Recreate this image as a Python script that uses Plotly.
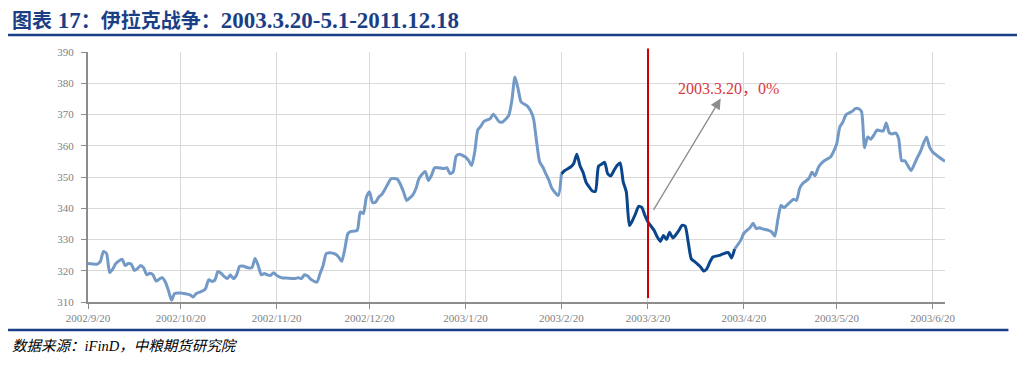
import plotly.graph_objects as go

# ---- data ----
dates = [
    "2002-09-20", "2002-09-23", "2002-09-24", "2002-09-25", "2002-09-26", "2002-09-27", "2002-09-28", "2002-09-29",
    "2002-10-01", "2002-10-02", "2002-10-03", "2002-10-04", "2002-10-05", "2002-10-06", "2002-10-07", "2002-10-08",
    "2002-10-09", "2002-10-10", "2002-10-11", "2002-10-12", "2002-10-13", "2002-10-14", "2002-10-15", "2002-10-16",
    "2002-10-17", "2002-10-18", "2002-10-20", "2002-10-21", "2002-10-23", "2002-10-24", "2002-10-25", "2002-10-27",
    "2002-10-28", "2002-10-29", "2002-10-30", "2002-10-31",
    "2002-11-01", "2002-11-02", "2002-11-03", "2002-11-04", "2002-11-05", "2002-11-06", "2002-11-07", "2002-11-08",
    "2002-11-09", "2002-11-11", "2002-11-12", "2002-11-13", "2002-11-14", "2002-11-15", "2002-11-16", "2002-11-17",
    "2002-11-18", "2002-11-19", "2002-11-20", "2002-11-22", "2002-11-23", "2002-11-25", "2002-11-26", "2002-11-27",
    "2002-11-28", "2002-11-29", "2002-11-30",
    "2002-12-01", "2002-12-03", "2002-12-04", "2002-12-05", "2002-12-06", "2002-12-07", "2002-12-09", "2002-12-10",
    "2002-12-11", "2002-12-12", "2002-12-13", "2002-12-14", "2002-12-16", "2002-12-17", "2002-12-18", "2002-12-19",
    "2002-12-20", "2002-12-21", "2002-12-22", "2002-12-23", "2002-12-24", "2002-12-25", "2002-12-26", "2002-12-27",
    "2002-12-29", "2002-12-30", "2002-12-31",
    "2003-01-01", "2003-01-02", "2003-01-03", "2003-01-04", "2003-01-05", "2003-01-07", "2003-01-08", "2003-01-09",
    "2003-01-10", "2003-01-11", "2003-01-13", "2003-01-14", "2003-01-15", "2003-01-16", "2003-01-17", "2003-01-18",
    "2003-01-20", "2003-01-21", "2003-01-22", "2003-01-23", "2003-01-24", "2003-01-25", "2003-01-26", "2003-01-28",
    "2003-01-29", "2003-01-31",
    "2003-02-01", "2003-02-02", "2003-02-03", "2003-02-04", "2003-02-05", "2003-02-06", "2003-02-07", "2003-02-09",
    "2003-02-10", "2003-02-11", "2003-02-12", "2003-02-13", "2003-02-14", "2003-02-15", "2003-02-16", "2003-02-17",
    "2003-02-19", "2003-02-20", "2003-02-21", "2003-02-23", "2003-02-24", "2003-02-25", "2003-02-26", "2003-02-27",
    "2003-02-28",
    "2003-03-01", "2003-03-02", "2003-03-03", "2003-03-04", "2003-03-05", "2003-03-06", "2003-03-07", "2003-03-08",
    "2003-03-09", "2003-03-10", "2003-03-11", "2003-03-12", "2003-03-13", "2003-03-14", "2003-03-15", "2003-03-16",
    "2003-03-17", "2003-03-18", "2003-03-19", "2003-03-20", "2003-03-22", "2003-03-23", "2003-03-24", "2003-03-25",
    "2003-03-26", "2003-03-27", "2003-03-28", "2003-03-29", "2003-03-30", "2003-03-31",
    "2003-04-01", "2003-04-02", "2003-04-03", "2003-04-04", "2003-04-06", "2003-04-07", "2003-04-08", "2003-04-09",
    "2003-04-10", "2003-04-12", "2003-04-13", "2003-04-15", "2003-04-16", "2003-04-17", "2003-04-19", "2003-04-20",
    "2003-04-22", "2003-04-23", "2003-04-24", "2003-04-25", "2003-04-26", "2003-04-28", "2003-04-29", "2003-04-30",
    "2003-05-01", "2003-05-02", "2003-05-03", "2003-05-04", "2003-05-05", "2003-05-06", "2003-05-07", "2003-05-08",
    "2003-05-09", "2003-05-11", "2003-05-12", "2003-05-13", "2003-05-14", "2003-05-15", "2003-05-16", "2003-05-18",
    "2003-05-19", "2003-05-20", "2003-05-21", "2003-05-22", "2003-05-23", "2003-05-24", "2003-05-25", "2003-05-26",
    "2003-05-27", "2003-05-28", "2003-05-29", "2003-05-30", "2003-05-31",
    "2003-06-01", "2003-06-02", "2003-06-04", "2003-06-05", "2003-06-06", "2003-06-07", "2003-06-08", "2003-06-09",
    "2003-06-10", "2003-06-11", "2003-06-13", "2003-06-14", "2003-06-15", "2003-06-16", "2003-06-18", "2003-06-19",
    "2003-06-20", "2003-06-22", "2003-06-24",
]

prices = [
    322.3, 322.1, 323.0, 326.2, 325.5, 319.4, 320.5, 322.3,
    323.7, 321.7, 322.3, 322.1, 320.1, 320.7, 321.7, 320.9,
    318.7, 319.2, 318.7, 316.7, 317.3, 317.8, 316.4, 313.7,
    310.6, 312.7, 312.9, 312.7, 312.3, 311.6, 312.7, 313.5,
    314.3, 317.1, 316.6, 317.0,
    319.8, 319.2, 318.2, 317.5, 318.6, 317.5, 318.6, 321.4,
    321.5, 320.9, 321.0, 323.9, 321.7, 318.7, 319.1, 318.7,
    318.5, 319.4, 318.5, 317.7, 317.7, 317.5, 317.5, 317.8,
    317.5, 318.7, 318.3,
    317.3, 316.4, 319.1, 321.7, 325.5, 325.8, 325.3, 324.4,
    323.0, 326.9, 331.9, 332.6, 332.9, 338.8, 338.3, 343.6,
    345.2, 341.8, 342.0, 343.6, 344.5, 346.1, 347.9, 349.5,
    349.3, 347.6, 345.2,
    342.5, 343.3, 344.3, 346.3, 349.5, 351.8, 348.9, 350.5,
    352.9, 353.0, 352.7, 353.0, 351.1, 351.6, 356.7, 357.3,
    356.4, 355.3, 353.7, 358.0, 365.1, 366.3, 367.8, 368.7,
    370.1, 367.6,
    367.6, 368.5, 369.7, 374.5, 382.0, 378.3, 374.0, 372.7,
    371.3, 368.7, 361.2, 354.8, 353.2, 351.0, 348.9, 346.3,
    344.1, 351.0, 352.0, 353.2, 354.3, 357.3, 353.7, 351.5,
    348.3,
    346.8, 345.5, 345.4, 353.4, 354.1, 354.7, 351.0, 350.4,
    352.1, 353.7, 354.5, 348.4, 345.2, 334.5, 336.1, 338.3,
    340.6, 340.3, 337.7, 335.6, 332.9, 330.8, 329.4, 331.3,
    330.0, 332.3, 330.5, 331.5, 332.9, 334.5,
    334.3, 329.2, 323.8, 323.0, 321.2, 319.9, 320.6, 322.8,
    324.4, 324.9, 325.3, 325.8, 324.1, 326.9, 329.8, 332.0,
    333.8, 335.2, 333.5, 333.8, 333.4, 332.9, 332.4, 331.1,
    336.6, 340.9, 340.2, 341.1, 342.0, 342.9, 342.5, 346.3,
    347.9, 349.5, 351.5, 350.4, 352.9, 354.3, 355.2, 356.4,
    358.2, 360.6, 366.0, 367.6, 369.9, 370.5, 371.0, 371.9,
    371.9, 371.0, 359.4, 362.8, 362.1,
    363.4, 365.0, 364.7, 367.3, 364.1, 363.8, 364.1, 362.3,
    355.2, 355.2, 352.1, 353.9, 356.1, 358.0, 362.8, 359.6,
    358.0, 356.4, 355.0,
]

highlight_start = "2003-02-20"   # dark segment start
highlight_end = "2003-04-17"     # dark segment end
event_date = "2003-03-20"        # red vertical line
event_label = "2003.3.20，0%"

tick_dates = ["2002-09-20", "2002-10-20", "2002-11-20", "2002-12-20", "2003-01-20",
              "2003-02-20", "2003-03-20", "2003-04-20", "2003-05-20", "2003-06-20"]
tick_labels = ["2002/9/20", "2002/10/20", "2002/11/20", "2002/12/20", "2003/1/20",
               "2003/2/20", "2003/3/20", "2003/4/20", "2003/5/20", "2003/6/20"]
y_ticks = [310, 320, 330, 340, 350, 360, 370, 380, 390]

title_text = "图表 17：伊拉克战争：2003.3.20-5.1-2011.12.18"
source_text = "数据来源：iFinD，中粮期货研究院"

# ---- styles ----
LIGHT = "#7399C6"
DARK = "#0B458C"
NAVY = "#1B3F86"
SERIF = "Liberation Serif, 'Times New Roman', 'Noto Sans CJK SC', serif"

i0 = dates.index(highlight_start)
i1 = dates.index(highlight_end)

fig = go.Figure()
line_common = dict(mode="lines", line_shape="spline", hoverinfo="skip", showlegend=False)
fig.add_trace(go.Scatter(x=dates[:i0 + 1], y=prices[:i0 + 1],
                         line=dict(color=LIGHT, width=3, smoothing=0.6), **line_common))
fig.add_trace(go.Scatter(x=dates[i1:], y=prices[i1:],
                         line=dict(color=LIGHT, width=3, smoothing=0.6), **line_common))
fig.add_trace(go.Scatter(x=dates[i0:i1 + 1], y=prices[i0:i1 + 1],
                         line=dict(color=DARK, width=3, smoothing=0.6), **line_common))

# the page body has an 8px margin, so the figure is drawn 8px smaller and offset
fig.update_layout(
    width=1017, height=363,
    margin=dict(l=80, r=80, t=44, b=69),
    paper_bgcolor="white", plot_bgcolor="white",
    font=dict(family=SERIF, size=11, color="#7F7F7F"),
    xaxis=dict(
        type="date", range=["2002-09-20", "2003-06-24"],
        tickmode="array", tickvals=tick_dates, ticktext=tick_labels,
        showgrid=True, gridcolor="#D9D9D9", gridwidth=1,
        showline=True, linecolor="#8C8C8C", linewidth=1.5,
        ticks="outside", ticklen=5, tickcolor="#8C8C8C",
        tickfont=dict(family=SERIF, size=11, color="#7F7F7F"),
        zeroline=False,
    ),
    yaxis=dict(
        range=[310, 390], tickmode="array", tickvals=y_ticks,
        showgrid=True, gridcolor="#D9D9D9", gridwidth=1,
        showline=True, linecolor="#8C8C8C", linewidth=2,
        ticks="outside", ticklen=5, tickcolor="#8C8C8C",
        tickfont=dict(family=SERIF, size=11, color="#7F7F7F"),
        ticklabelstandoff=5,
        zeroline=False,
    ),
)

# red vertical event line (extends slightly above the plot top)
fig.add_shape(type="line", xref="x", yref="paper", x0=event_date, x1=event_date,
              y0=0.016, y1=1.014, line=dict(color="#CC0000", width=2))

# gray arrow
fig.add_annotation(x="2003-04-12 12:00", y=375.1, ax="2003-03-21 12:00", ay=339.0,
                   xref="x", yref="y", axref="x", ayref="y", text="",
                   showarrow=True, arrowhead=2, arrowsize=1.6, arrowwidth=1.3,
                   arrowcolor="#8C8C8C")
fig.add_annotation(x="2003-03-29", y=378.4, xref="x", yref="y", text=event_label,
                   showarrow=False, xanchor="left", yanchor="middle",
                   font=dict(family=SERIF, size=16, color="#D9393F"))

# title, rules, source
fig.add_annotation(x=-0.091, y=1.128, xref="paper", yref="paper", xanchor="left", yanchor="middle",
                   showarrow=False,
                   text="<b><span style='font-size:20px'>图表</span> 17<span style='font-size:20px'>：伊拉克战争：</span>2003.3.20-5.1-2011.12.18</b>",
                   font=dict(family=SERIF, size=23, color=NAVY))
fig.add_shape(type="line", xref="paper", yref="paper", x0=-0.0933, x1=1.0875, y0=1.068, y1=1.068,
              line=dict(color=NAVY, width=2.5))
fig.add_shape(type="line", xref="paper", yref="paper", x0=-0.0933, x1=1.074, y0=-0.112, y1=-0.112,
              line=dict(color=NAVY, width=2.5))
fig.add_annotation(x=-0.091, y=-0.176, xref="paper", yref="paper", xanchor="left", yanchor="middle",
                   showarrow=False, text="<i>" + source_text + "</i>",
                   font=dict(family=SERIF, size=14.5, color="#000000"))

fig.write_html("out.html")
